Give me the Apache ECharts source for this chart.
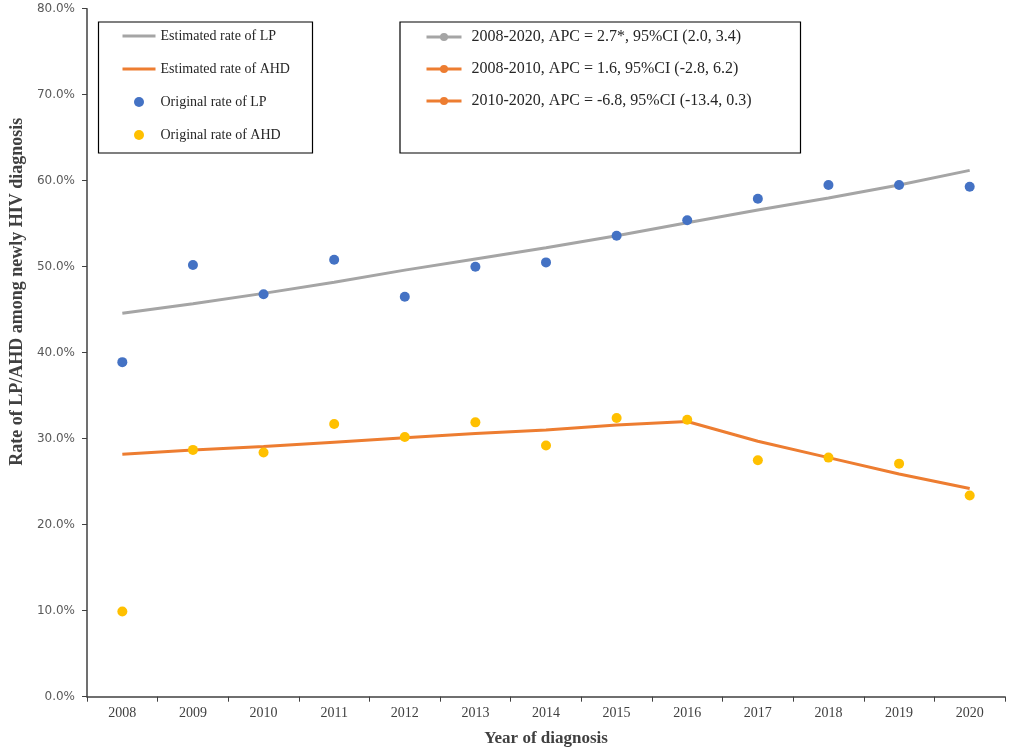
<!DOCTYPE html>
<html>
<head>
<meta charset="utf-8">
<script src="https://cdn.jsdelivr.net/npm/echarts@6/dist/echarts.min.js"></script>
<style>
  html, body { margin: 0; padding: 0; background: #fff; }
  #chart { width: 1013px; height: 753px; }
</style>
</head>
<body>
<div id="chart"></div>
<script>
// * Categories and tick labels
const years = ["2008", "2009", "2010", "2011", "2012", "2013", "2014", "2015", "2016", "2017", "2018", "2019", "2020"];
const yTicks = [0, 10, 20, 30, 40, 50, 60, 70, 80];

// * Series values (percent)
const lpEstimated = [44.6, 45.7, 46.9, 48.2, 49.6, 50.9, 52.2, 53.6, 55.1, 56.6, 58.0, 59.5, 61.2];
const ahdEstimated = [28.2, 28.7, 29.1, 29.6, 30.1, 30.6, 31.0, 31.6, 32.0, 29.7, 27.8, 25.9, 24.2];
const lpOriginal = [38.9, 50.2, 46.8, 50.8, 46.5, 50.0, 50.5, 53.6, 55.4, 57.9, 59.5, 59.5, 59.3];
const ahdOriginal = [9.9, 28.7, 28.4, 31.7, 30.2, 31.9, 29.2, 32.4, 32.2, 27.5, 27.8, 27.1, 23.4];

// * Legend labels
const leftLegend = ["Estimated rate of LP", "Estimated rate of AHD", "Original rate of LP", "Original rate of AHD"];
const apcLegend = [
  "2008-2020, APC = 2.7*, 95%CI (2.0, 3.4)",
  "2008-2010, APC = 1.6, 95%CI (-2.8, 6.2)",
  "2010-2020, APC = -6.8, 95%CI (-13.4, 0.3)",
];

const gray = "#A5A5A5";
const orange = "#ED7D31";
const blue = "#4472C4";
const yellow = "#FFC000";
const serif = "'Liberation Serif', 'Times New Roman', serif";

const chart = echarts.init(document.getElementById("chart"));

const option = {
  animation: false,
  backgroundColor: "#fff",
  grid: { left: 85, right: 8, top: 8.7, bottom: 56.3, containLabel: false },
  graphic: [
    // ? legend frames
    { type: "rect", shape: { x: 98.5, y: 22, width: 214, height: 131 },
      style: { fill: "none", stroke: "#000", lineWidth: 1.2 }, z: 1 },
    { type: "rect", shape: { x: 400, y: 22, width: 400.5, height: 131 },
      style: { fill: "none", stroke: "#000", lineWidth: 1.2 }, z: 1 },
  ],
  legend: [
    {
      data: leftLegend.map((name, i) => (i < 2 ? { name, itemStyle: { opacity: 0 } } : { name })),
      orient: "vertical",
      left: 121,
      top: 28,
      padding: 0,
      itemWidth: 33,
      itemHeight: 10,
      itemGap: 17,
      lineStyle: { width: 3 },
      textStyle: { fontFamily: serif, fontSize: 14, color: "#262626", lineHeight: 16 },
    },
    {
      data: apcLegend,
      orient: "vertical",
      left: 425,
      top: 29,
      padding: 0,
      itemWidth: 35,
      itemHeight: 10,
      itemGap: 16,
      lineStyle: { width: 3 },
      textStyle: { fontFamily: serif, fontSize: 16, color: "#262626", lineHeight: 16, padding: [0, 0, 0, 5] },
    },
  ],
  xAxis: {
    type: "category",
    data: years,
    boundaryGap: true,
    name: "Year of diagnosis",
    nameLocation: "middle",
    nameGap: 33,
    nameTextStyle: { fontFamily: serif, fontSize: 17, fontWeight: "bold", color: "#404040" },
    axisLine: { lineStyle: { color: "#404040", width: 1.5 } },
    axisTick: { show: true, length: 5, lineStyle: { color: "#404040" } },
    axisLabel: { margin: 10, fontFamily: serif, fontSize: 14, color: "#404040" },
    splitLine: { show: false },
  },
  yAxis: {
    type: "value",
    min: yTicks[0],
    max: yTicks[yTicks.length - 1],
    interval: 10,
    name: "Rate of LP/AHD among newly HIV diagnosis",
    nameLocation: "middle",
    nameRotate: 90,
    nameGap: 54,
    nameTextStyle: { fontFamily: serif, fontSize: 18, fontWeight: "bold", color: "#404040", padding: [0, 0, 0, 122] },
    axisLine: { show: true, lineStyle: { color: "#404040", width: 1.5 } },
    axisTick: { show: true, length: 5, lineStyle: { color: "#404040" } },
    axisLabel: {
      margin: 12,
      fontFamily: "'DejaVu Sans', sans-serif",
      fontSize: 12,
      color: "#595959",
      formatter: (v) => v.toFixed(1) + "%",
    },
    splitLine: { show: false },
  },
  series: [
    {
      name: leftLegend[0],
      type: "line",
      data: lpEstimated,
      symbol: "none",
      color: gray,
      lineStyle: { color: gray, width: 3 },
      z: 2,
    },
    {
      name: leftLegend[1],
      type: "line",
      data: ahdEstimated,
      symbol: "none",
      color: orange,
      lineStyle: { color: orange, width: 3 },
      z: 2,
    },
    {
      name: leftLegend[2],
      type: "scatter",
      data: lpOriginal,
      symbolSize: 10,
      itemStyle: { color: blue, opacity: 1 },
      z: 3,
    },
    {
      name: leftLegend[3],
      type: "scatter",
      data: ahdOriginal,
      symbolSize: 10,
      itemStyle: { color: yellow, opacity: 1 },
      z: 3,
    },
    // * APC segment legend entries (no marks of their own)
    {
      name: apcLegend[0],
      type: "line",
      data: [],
      symbol: "circle",
      color: gray,
      lineStyle: { color: gray, width: 3 },
    },
    {
      name: apcLegend[1],
      type: "line",
      data: [],
      symbol: "circle",
      color: orange,
      lineStyle: { color: orange, width: 3 },
    },
    {
      name: apcLegend[2],
      type: "line",
      data: [],
      symbol: "circle",
      color: orange,
      lineStyle: { color: orange, width: 3 },
    },
  ],
};

chart.setOption(option);
</script>
</body>
</html>
